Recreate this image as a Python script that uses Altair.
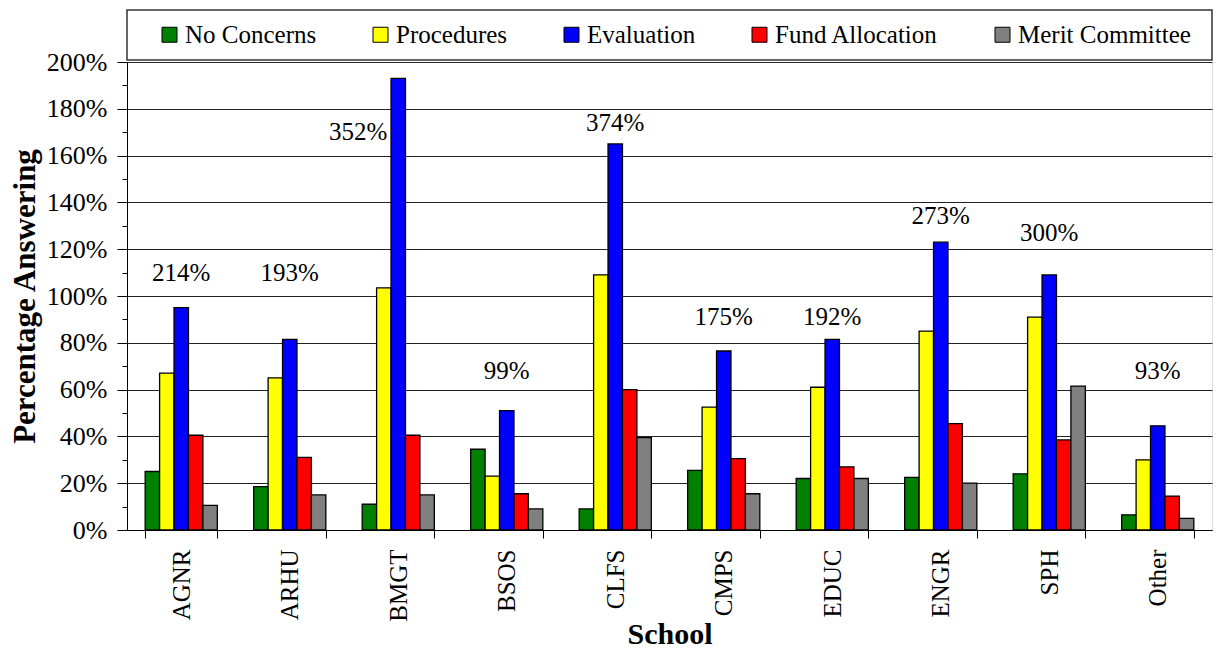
import altair as alt
import pandas as pd

schools = ["AGNR", "ARHU", "BMGT", "BSOS", "CLFS", "CMPS", "EDUC", "ENGR", "SPH", "Other"]
series_names = ["No Concerns", "Procedures", "Evaluation", "Fund Allocation", "Merit Committee"]
series_colors = ["#008000", "#FFFF00", "#0000FF", "#FF0000", "#808080"]

no_concerns = [25, 18.5, 11, 34.5, 9, 25.5, 22, 22.5, 24, 6.5]
procedures = [67, 65, 103.5, 23, 109, 52.5, 61, 85, 91, 30]
evaluation = [95, 81.5, 193, 51, 165, 76.5, 81.5, 123, 109, 44.5]
fund_allocation = [40.5, 31, 40.5, 15.5, 60, 30.5, 27, 45.5, 38.5, 14.5]
merit_committee = [10.5, 15, 15, 9, 39.5, 15.5, 22, 20, 61.5, 5]

total_labels = ["214%", "193%", "352%", "99%", "374%", "175%", "192%", "273%", "300%", "93%"]
label_level = [110, 110, 170, 68, 174, 91, 91, 134, 127, 68]

series_values = [no_concerns, procedures, evaluation, fund_allocation, merit_committee]
rows = []
for i, s in enumerate(schools):
    for name, vals in zip(series_names, series_values):
        rows.append({"School": s, "Series": name, "Value": vals[i]})
df = pd.DataFrame(rows)
labels_df = pd.DataFrame({"School": schools, "Label": total_labels, "Level": label_level})

FONT = "'Liberation Serif', 'Times New Roman', 'DejaVu Serif', serif"
W = 1085
H = 468

x_axis = alt.Axis(
    title="School", labelAngle=-90, tickBand="extent", tickSize=8, labelPadding=11,
    labelFont=FONT, labelFontSize=25, labelColor="black",
    titleFont=FONT, titleFontSize=30, titleFontWeight="bold", titleColor="black",
    titleX=W / 2, titleY=104, titleBaseline="middle",
    domainColor="black", tickColor="black", grid=False,
)
major = "datum.value % 20 === 0"
y_axis = alt.Axis(
    title="Percentage Answering", values=list(range(0, 201, 10)),
    labelExpr="datum.value % 20 === 0 ? datum.value + '%' : ''",
    tickSize={"condition": {"test": major, "value": 10}, "value": 5},
    gridOpacity={"condition": {"test": major, "value": 1}, "value": 0},
    gridColor="#222222", grid=True, labelPadding=10,
    labelFont=FONT, labelFontSize=26, labelColor="black",
    titleFont=FONT, titleFontSize=31, titleFontWeight="bold", titleColor="black",
    titleX=-102, titleY=H / 2, titleBaseline="middle", titleAngle=270, titleAlign="center",
    domainColor="black", tickColor="black",
)
x_scale = alt.Scale(paddingInner=0.335, paddingOuter=0.1675)
y_scale = alt.Scale(domain=[0, 200], nice=False)

bars = alt.Chart(df).mark_bar(stroke="black", strokeWidth=1.3).encode(
    x=alt.X("School:N", sort=schools, scale=x_scale, axis=x_axis),
    xOffset=alt.XOffset("Series:N", sort=series_names, scale=alt.Scale(paddingInner=0, paddingOuter=0)),
    y=alt.Y("Value:Q", scale=y_scale, axis=y_axis),
    color=alt.Color(
        "Series:N", sort=series_names,
        scale=alt.Scale(domain=series_names, range=series_colors),
        legend=alt.Legend(
            title=None, orient="none", legendX=30, legendY=-40, direction="horizontal",
            columns=5, columnPadding=51, symbolType="square", symbolSize=225,
            symbolStrokeColor="black", symbolStrokeWidth=1, symbolOpacity=1,
            labelFont=FONT, labelFontSize=25, labelOffset=3, labelColor="black",
            padding=0, labelLimit=0,
        ),
    ),
)

text_main = alt.Chart(labels_df).transform_filter(
    "datum.School !== 'BMGT'"
).mark_text(font=FONT, fontSize=25, color="black", baseline="middle").encode(
    x=alt.X("School:N", sort=schools, scale=x_scale, axis=x_axis),
    y=alt.Y("Level:Q", scale=y_scale, axis=y_axis),
    text="Label:N",
)
text_shift = alt.Chart(labels_df).transform_filter(
    "datum.School === 'BMGT'"
).mark_text(font=FONT, fontSize=25, color="black", baseline="middle", dx=-40).encode(
    x=alt.X("School:N", sort=schools, scale=x_scale, axis=x_axis),
    y=alt.Y("Level:Q", scale=y_scale, axis=y_axis),
    text="Label:N",
)

frame = alt.Chart(pd.DataFrame({"k": [0]})).mark_rect(
    fill="white", stroke="#333333", strokeWidth=1.5
).encode(
    x=alt.value(0), x2=alt.value(W), y=alt.value(-52), y2=alt.value(-2)
)

chart = alt.layer(frame, bars, text_main, text_shift).properties(
    width=W, height=H,
    autosize=alt.AutoSizeParams(type="none"),
    padding={"left": 119, "top": 54, "right": 2, "bottom": 120},
).configure_view(stroke="#808080", strokeWidth=1.2).configure(font=FONT, background="white")

chart.save("out.html", embed_options={"renderer": "svg", "actions": False})
